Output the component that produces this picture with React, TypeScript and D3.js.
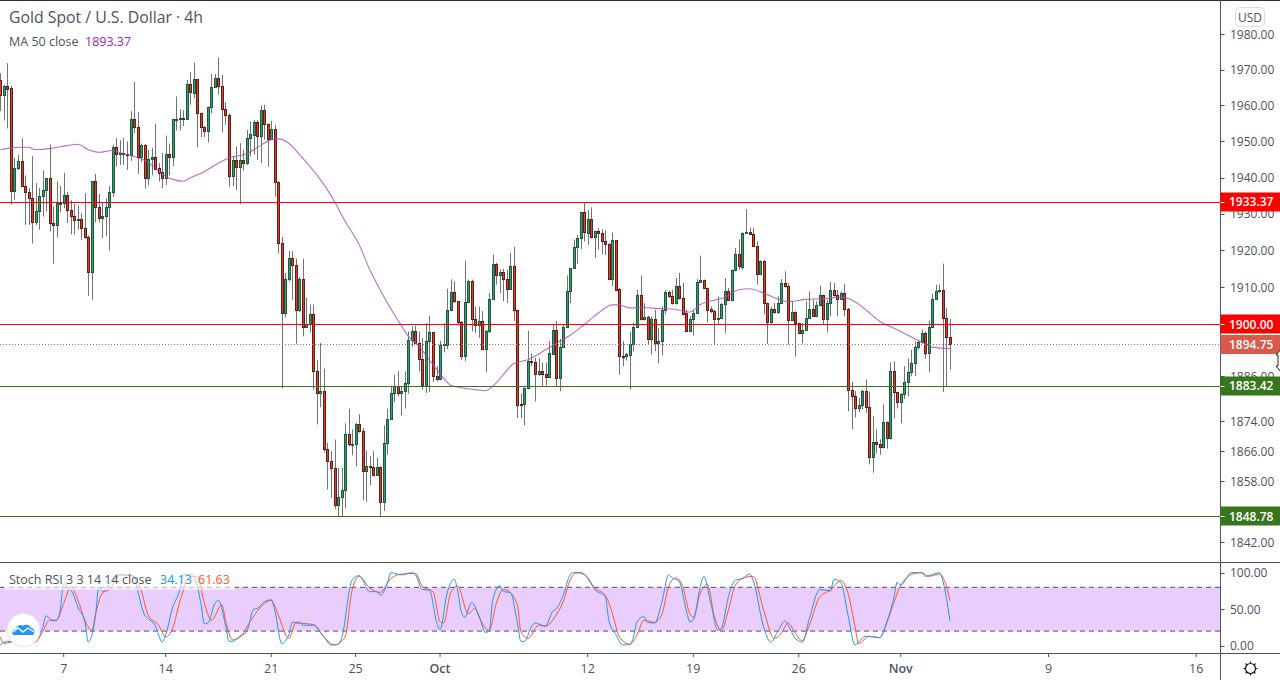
import React from 'react';
import * as d3 from 'd3';

const opens = [
  1967.1,1962.9,1965.4,1964.8,1936.2,1942.6,1944.5,1937.6,1935.9,1934.3,
  1927.8,1930.7,1934.9,1936.5,1939.8,1927.5,1926.9,1932.9,1933,1935.2,
  1931.2,1929.3,1928.2,1928.6,1926.1,1923.6,1914.1,1939,1931.9,1928.8,
  1929.3,1931.9,1935.9,1948.4,1946.4,1946.8,1946.5,1946.1,1956.2,1954,
  1945.8,1949,1940,1945.1,1945.6,1942.6,1941.5,1940,1946.5,1945.8,
  1956.1,1956.1,1956.4,1956.2,1965.9,1963.6,1967.3,1957.8,1954,1952.8,
  1959.5,1965.1,1967.6,1965.4,1958.9,1957.3,1940.3,1944.8,1943,1944.8,
  1943.9,1950.9,1951.9,1955.5,1951.4,1958.6,1954.7,1950.8,1953.4,1938.9,
  1922,1903,1912.2,1918,1916,1903.7,1912.2,1899.2,1900.1,1902.8,
  1887.3,1881.4,1882.1,1866.6,1863.5,1861.6,1851.8,1854,1855.8,1870.6,
  1867.8,1868,1873.3,1871.4,1860.7,1862.1,1861.9,1859.6,1861.9,1852.6,
  1868.2,1874.6,1881.4,1883.4,1881.4,1882,1884.1,1895.7,1898.2,1894.9,
  1890.6,1883.7,1895.4,1897.8,1886,1885.2,1894.4,1894.4,1903.8,1908.7,
  1906.2,1900.6,1891.3,1906,1911.7,1901.3,1899.8,1900.9,1893.2,1898.2,
  1906.8,1916.3,1913.3,1914.1,1912.2,1909.5,1915.8,1903.7,1878.6,1878.5,
  1882.9,1890.1,1889.8,1886.5,1887.4,1886.5,1885.7,1892,1898.4,1885.4,
  1893.9,1899.2,1908.9,1915.1,1921,1923.3,1930.5,1924.9,1928.6,1923.6,
  1925.3,1924.8,1922.5,1921.7,1912.2,1922.8,1909.5,1891.5,1891.3,1891.8,
  1894.6,1899.1,1907.9,1901.3,1901.9,1895.9,1901.4,1894.8,1895.4,1903.8,
  1908.7,1907.5,1905.6,1910.2,1907.1,1903,1898.2,1901.3,1903,1911.4,
  1912,1909.8,1904.1,1903.6,1901.4,1901.6,1905.4,1909,1906.4,1914.7,
  1919,1915.6,1924.8,1925,1924.5,1921.2,1913.5,1917.2,1905.7,1900.5,
  1904.1,1903.2,1905.7,1911.2,1910.4,1901.1,1903.3,1900.3,1897.5,1898.4,
  1901.7,1904.1,1902.1,1905.2,1907.9,1901.3,1905.6,1909.3,1907.9,1906.7,
  1908.4,1904.1,1882.3,1880.7,1877.4,1878.3,1882.1,1877.8,1864.5,1868.5,
  1868,1867.1,1873.8,1869.5,1887.4,1881.7,1879,1881.1,1884.5,1887,
  1889.6,1893.8,1895.1,1897.6,1892.2,1899.1,1906.7,1909,1909.3,1901.7,1896.5,
];
const highs = [
  1969,1965.6,1971.8,1965.5,1945.4,1946.3,1950.9,1940.6,1937.1,1945.9,
  1938.5,1937.1,1942,1939.9,1949.1,1932.1,1938.9,1937.7,1941.3,1936.1,
  1933.9,1932.8,1932.3,1930.2,1935.7,1924.1,1939.1,1941,1935.5,1933,
  1934.3,1937.7,1949.1,1950.9,1950.3,1950.9,1950,1958.4,1966.5,1958.1,
  1949.4,1949.3,1947.7,1948.2,1954.9,1944,1946.8,1951.6,1949.4,1956.3,
  1962.5,1958.9,1958.7,1967.1,1969.3,1972,1967.4,1958,1954.2,1959.7,
  1968.8,1968.8,1973.4,1968.5,1960.9,1957.8,1946,1948.6,1949.5,1947.7,
  1953.2,1955.5,1956,1956,1960,1960.2,1955,1955.7,1954.6,1939,
  1923.7,1913.9,1919.9,1919.8,1917.8,1912.8,1917.7,1907.1,1905.3,1905.3,
  1890.4,1894.9,1888,1868.2,1866,1869.1,1861.6,1861.6,1873.4,1877.3,
  1871.8,1873.5,1875.8,1872.2,1866.2,1864.7,1866,1864.2,1862,1872.8,
  1877.3,1883.3,1886.3,1887.3,1883.3,1887.3,1898,1899.4,1899.6,1898,
  1896.3,1900.3,1902.3,1897.9,1888.7,1895.5,1900.3,1909.6,1912.1,1911.6,
  1906.3,1900.8,1917.2,1912.1,1912.1,1904.7,1904.7,1903.5,1898.5,1908.4,
  1918.9,1916.6,1914.8,1915,1914.8,1919.3,1921,1903.9,1881.3,1883,
  1898.2,1892.1,1890.9,1890.9,1889.6,1889.7,1895.4,1900,1900.9,1896,
  1899.9,1913.2,1915.2,1923,1924.3,1930.6,1933.1,1931.1,1931.8,1925.4,
  1926.1,1925.8,1925.5,1922,1924.9,1922.9,1909.8,1895.4,1892.2,1897.9,
  1900.3,1909.3,1913.2,1905.7,1902.3,1902.1,1903.9,1899,1904.8,1909.3,
  1909,1909.3,1912.5,1913.9,1911.2,1903.9,1902.3,1903.9,1912.2,1918.6,
  1912.1,1909.9,1904.8,1903.9,1907.5,1905.7,1912.5,1909.8,1914.8,1920.7,
  1923,1924.9,1931.3,1926.3,1926.1,1922.5,1917.3,1917.3,1905.8,1904.7,
  1905.7,1907.5,1912.2,1914.3,1911.2,1906.2,1903.5,1900.4,1900.3,1906.2,
  1908.9,1906.6,1906.2,1910.4,1908,1906.6,1911.4,1911.2,1909.3,1908.9,
  1910.9,1904.4,1884.5,1882,1880.2,1882.4,1885.1,1881.8,1875.3,1871.8,
  1869.1,1878.4,1873.9,1889.7,1890,1881.8,1881.5,1888.7,1890.7,1893.1,
  1895.4,1895.8,1898.5,1898,1900.9,1908.3,1910.7,1910.7,1916.4,1904.4,1901.4,
];
const lows = [
  1958.4,1955.8,1953.6,1932.6,1933.9,1942.1,1937.5,1927,1927,1921.9,
  1927,1925.7,1929.3,1930.7,1925.2,1916.4,1923.5,1930.5,1931.6,1927.5,
  1924.4,1924.4,1925.7,1922.8,1923.2,1907.7,1906.6,1927.7,1927.7,1923.4,
  1923.9,1920,1934.7,1943,1943.5,1943.5,1942.1,1944.6,1952.3,1941,
  1944.3,1937,1937.9,1940.6,1942.1,1938.9,1937,1938,1940.6,1943.2,
  1953,1953.1,1954.3,1956.1,1960.2,1962,1948.3,1951.2,1951.2,1949.7,
  1957.8,1965,1963,1952.5,1954.6,1937.5,1937.7,1936.6,1932.7,1941.9,
  1943.5,1945.8,1946.3,1944.9,1944,1950.5,1943,1950.5,1934.8,1919.2,
  1882.7,1901.9,1911.6,1906.6,1894.7,1903.2,1896.7,1899.1,1897.8,1882.4,
  1873.1,1877.7,1865.6,1855.9,1853.7,1850.7,1848.9,1848.9,1850.9,1867.3,
  1864.9,1862,1870.9,1853,1852.6,1857,1859.4,1859.4,1848.9,1850.2,
  1865,1874.4,1879,1880.6,1875.5,1877.4,1881.3,1893.8,1894.8,1887.3,
  1882.4,1881.5,1881.7,1884.5,1884.6,1885.1,1892.4,1893.3,1903.5,1905.7,
  1899.7,1890.4,1890,1905.7,1898,1897.6,1896.3,1893,1887.1,1897.6,
  1906.6,1910.7,1908.4,1906.2,1905.7,1909.3,1900.8,1874.8,1874.8,1872.9,
  1882.4,1888.7,1879.2,1886,1883.3,1883.5,1885.5,1891.8,1883.3,1882,
  1893.7,1899,1905.7,1915,1916.4,1920.4,1922.5,1921.6,1923.3,1918,
  1920.2,1919,1918.8,1912,1910.3,1909,1886.4,1888.7,1890.2,1882.4,
  1892.6,1899,1901,1901,1894.5,1891.8,1892.7,1889.4,1891.6,1902.6,
  1907.1,1905.3,1905.3,1906.6,1902.6,1898,1898,1897,1902.8,1911.2,
  1909.5,1900.5,1903,1894.7,1899.9,1901.4,1897.5,1906.4,1906.2,1914.3,
  1914.8,1914.8,1924.6,1924.2,1921,1910.7,1913.3,1902.6,1894.7,1900.1,
  1902.8,1902.8,1905.5,1909.9,1894.5,1900.8,1891.3,1897.4,1894.8,1898.2,
  1901.4,1901.9,1901.9,1904.8,1899.9,1897.8,1902.1,1907.5,1902.1,1906.5,
  1902.1,1876.6,1871.8,1875,1876.4,1877.1,1876.2,1862.5,1860.3,1865.4,
  1865.1,1866.7,1866.7,1869.1,1874.7,1877.4,1873.4,1879.9,1880.6,1886,
  1886,1893.1,1894.8,1890.7,1887.1,1899,1906.5,1908.5,1881.7,1883.1,1887.8,
];
const closes = [
  1962.9,1965.4,1964.7,1936.2,1942.6,1944.5,1937.6,1935.9,1934.3,1927.8,
  1930.8,1934.9,1936.5,1939.8,1927.4,1926.9,1933.1,1933.1,1935.2,1931.2,
  1929.3,1928.2,1928.6,1926.1,1923.6,1914.1,1939,1931.9,1928.8,1929.3,
  1931.9,1935.9,1948.4,1946.4,1946.8,1946.4,1946.1,1956.2,1953.9,1945.8,
  1949,1940,1945.1,1945.6,1942.5,1941.4,1940,1946.5,1945.8,1956.2,
  1956.3,1956.4,1956.1,1965.9,1963.7,1967.3,1957.8,1953.9,1952.8,1959.5,
  1965.1,1967.6,1965.4,1958.9,1957.3,1940.3,1944.8,1943,1944.8,1943.9,
  1950.9,1952,1955.5,1951.4,1958.6,1954.7,1950.8,1953.4,1938.9,1922,
  1903,1912.2,1918,1916,1903.7,1912.2,1899.2,1900.1,1902.8,1887.3,
  1881.5,1882.1,1866.6,1863.5,1861.6,1851.8,1854,1855.8,1870.6,1868,
  1868,1873.3,1871.4,1860.7,1862.1,1861.8,1859.6,1861.9,1852.6,1868.2,
  1874.6,1881.5,1883.4,1881.4,1882.1,1884.2,1895.7,1898.2,1894.9,1890.6,
  1883.7,1895.4,1897.8,1886,1885.2,1894.5,1894.6,1903.8,1908.7,1906.2,
  1900.6,1891.3,1906,1911.7,1901.3,1899.8,1900.9,1893.2,1898.2,1906.8,
  1916.3,1913.3,1914.1,1912.2,1909.5,1915.8,1903.7,1878.3,1878.3,1882.9,
  1890.1,1889.7,1886.5,1887.4,1886.5,1885.7,1892.1,1898.4,1885.4,1893.9,
  1899.2,1909,1915.1,1921,1923.4,1930.5,1925,1928.6,1923.6,1925.3,
  1924.8,1922.5,1921.7,1912.2,1922.8,1909.3,1891.3,1891.3,1892,1894.7,
  1899.2,1907.9,1901.3,1901.9,1895.9,1901.4,1894.8,1895.4,1903.9,1908.7,
  1907.5,1905.6,1910.2,1907.1,1902.8,1898.2,1901.3,1903,1911.4,1912,
  1909.7,1903.9,1903.6,1901.4,1901.7,1905.5,1909,1906.5,1914.7,1919,
  1915.7,1924.8,1925,1924.5,1921.1,1913.5,1917.2,1905.7,1900.5,1904.1,
  1903.3,1905.7,1911.2,1910.3,1901.1,1903.3,1900.3,1897.6,1898.4,1901.7,
  1904.1,1902.1,1905.2,1907.9,1901.3,1905.7,1909.3,1907.8,1906.7,1908.5,
  1904.1,1882.3,1880.7,1877.4,1878.3,1882.1,1877.8,1864.5,1868.5,1868,
  1867.1,1873.8,1869.5,1887.4,1881.7,1879,1881.3,1884.5,1887.1,1889.6,
  1893.9,1895.1,1897.6,1892.2,1899.2,1906.8,1909,1909.3,1901.6,1896.5,1894.75,
];

// MA 50 at these bars
const maBars = [0,3,6,8,10,14,17,22,25,28,32,34,38,42,45,47,49,52,54,58,62,65,70,74,77,79,82,85,93,95,98,102,105,109,114,116,119,123,126,128,131,135,138,140,143,146,150,155,158,162,166,170,174,176,179,183,187,191,196,199,206,210,213,217,221,224,229,234,239,242,245,250,255,261,265,270];
const maValues = [1947.7,1948.2,1948.4,1948.4,1947.7,1948,1948.5,1949.2,1947.7,1947,1947.5,1946.9,1945.8,1944.3,1941.7,1940.3,1939.5,1939,1939.9,1941.7,1944,1945.4,1946.6,1948.9,1950.5,1950.7,1949.5,1946.4,1936.6,1933.4,1928,1921.6,1914.8,1907.5,1899.6,1896.7,1894,1889.1,1885.5,1883.6,1882.9,1882.4,1882.1,1883.3,1886.4,1889.4,1890.4,1893.1,1894.8,1897,1899.9,1903,1905.2,1905.2,1904.4,1904.5,1904.2,1904.1,1903.3,1905.3,1907.3,1909.3,1909.6,1908.4,1906.8,1906.1,1906.7,1906.9,1907.3,1906.6,1904.7,1900.8,1898.5,1895.6,1893.8,1893.37];

// Stoch RSI %K and %D
const kBars = [0,1,3,5,10,12,13,15,16,17,18,19,21,22,24,25,27,28,29,31,33,36,38,39,41,42,44,46,47,49,51,52,54,55,57,58,59,61,62,64,65,66,68,70,72,73,75,77,78,80,82,83,85,86,89,92,94,96,97,100,102,105,107,108,110,111,114,117,118,120,122,124,125,127,129,130,131,132,134,136,138,139,140,142,143,145,147,148,149,151,152,155,157,158,160,162,163,165,167,169,172,173,175,177,179,180,181,183,184,186,188,190,191,193,195,196,197,199,200,202,204,205,207,209,211,213,214,217,219,221,223,224,226,228,230,233,236,237,239,241,243,244,246,250,252,254,255,256,259,262,263,267,268,270];
const kValues = [1,5,6,8,8,24,41,34,35,49,85,82,67,53,33,5,40,81,74,85,97,97,95,76,42,37,28,5,15,53,76,97,98,95,58,30,31,58,62,28,6,6,13,19,50,51,60,63,49,3,15,32,32,28,28,12,1,2,10,90,96,74,74,69,85,100,97,100,97,77,76,33,22,72,91,76,47,39,59,42,18,21,63,82,74,73,31,6,6,26,31,27,47,50,69,97,100,100,92,77,67,35,15,1,2,12,33,40,32,31,58,97,93,88,49,33,35,81,95,58,21,24,67,90,92,98,90,26,5,19,34,28,10,5,37,77,75,91,86,42,1,5,13,11,32,65,87,83,100,100,95,100,88,34.13];
const dBars = [0,1,3,6,10,12,14,16,18,20,22,24,26,27,29,31,34,37,40,42,45,47,49,51,54,56,58,60,63,64,66,68,71,74,77,79,82,84,89,92,95,98,100,102,105,108,111,114,118,120,123,125,126,128,130,133,135,136,139,141,143,144,147,148,150,153,155,158,160,162,164,166,169,172,174,176,179,181,183,186,188,190,192,194,196,197,199,201,203,205,207,209,212,214,217,220,222,224,226,228,230,233,236,239,241,243,244,247,250,252,254,256,260,262,264,267,269,270];
const dValues = [12,3,5,8,5,19,35,35,58,80,63,35,21,42,72,77,97,96,76,42,28,12,24,60,95,95,58,35,56,35,8,11,33,53,62,42,10,31,29,12,1,12,76,95,79,73,92,98,99,81,74,33,31,72,82,44,51,40,21,58,77,76,56,19,10,28,27,42,60,90,100,98,79,69,44,12,2,15,35,32,42,81,93,81,44,39,72,84,40,21,49,83,94,95,49,10,17,31,17,7,28,67,76,89,72,26,3,13,11,31,58,83,99,100,95,98,81,61.63];

const dayLabels = ['7','14','21','25','Oct','12','19','26','Nov','9','16'];
const dayBars = [18,47,77,101,125,167,197,227,256,298,340];

const priceTicks = [1980,1970,1960,1950,1940,1930,1920,1910,1900,1886,1874,1866,1858,1842];
const oscTicks = [100,50,0];

const priceLevels = [1933.37,1900,1883.42,1848.78];
const levelColors = ['#ff0000','#ff0000','#38761d','#38761d'];
const lastPrice = 1894.75;

const font = '"Open Sans", sans-serif';
const textCol = '#4e525c';
const axisCol = '#50535e';

const W = 1280;
const H = 680;
const axisX = 1220.5;
const paneTop = 1;
const divider = 562.5;
const timeLine = 653.5;

const x = d3.scaleLinear().domain([0, 340]).range([0.4, 1196.2]);
// the price axis is logarithmic
const y = d3.scaleLog().domain([1980, 1848.78]).range([34, 516.4]);
const yOsc = d3.scaleLinear().domain([100, 0]).range([572.7, 645.7]);

const maLine = d3.line<number>().x((_, i) => x(maBars[i])).y(d => y(d)).curve(d3.curveMonotoneX);
const kLine = d3.line<number>().x((_, i) => x(kBars[i])).y(d => yOsc(d)).curve(d3.curveMonotoneX);
const dLine = d3.line<number>().x((_, i) => x(dBars[i])).y(d => yOsc(d)).curve(d3.curveMonotoneX);

const Tag = ({ value, color }: { value: number; color: string }) => (
  <g>
    <rect x={axisX} y={Math.round(y(value)) - 9.5} width={W - axisX} height={19} fill={color} />
    <line x1={axisX} x2={axisX + 4} y1={Math.round(y(value)) + 0.5} y2={Math.round(y(value)) + 0.5} stroke="#fff" />
    <text x={1229} y={y(value) + 4.5} fontSize={12} fontWeight={600} fill="#fff">{value.toFixed(2)}</text>
  </g>
);

export default function App() {
  return (
    <svg width={W} height={H} viewBox={`0 0 ${W} ${H}`} fontFamily={font}
      style={{ position: 'absolute', left: 0, top: 0, background: '#fff' }}>
      <defs>
        <clipPath id="pricePane"><rect x={0} y={paneTop} width={axisX} height={divider - paneTop} /></clipPath>
        <clipPath id="oscPane"><rect x={0} y={divider} width={axisX} height={timeLine - divider} /></clipPath>
      </defs>

      <g clipPath="url(#pricePane)">
        {closes.map((c, i) => {
          const up = c >= opens[i];
          const cx = Math.round(x(i)) + 0.5;
          const top = y(Math.max(c, opens[i]));
          const bot = y(Math.min(c, opens[i]));
          return (
            <g key={i}>
              <line x1={cx} x2={cx} y1={y(highs[i])} y2={y(lows[i])} stroke="#737375" />
              <rect x={cx - 1} y={Math.round(top) + 0.5} width={2}
                height={Math.max(Math.round(bot) - Math.round(top), 1)}
                fill={up ? '#3d9a6e' : '#d8402f'} stroke={up ? '#1c5a3c' : '#651c14'} />
            </g>
          );
        })}
        <path d={maLine(maValues) ?? ''} fill="none" stroke="#ab47bc" strokeOpacity={0.8} strokeWidth={1.1} />
        {priceLevels.map((p, i) => (
          <rect key={p} x={0} width={axisX} y={Math.round(y(p))} height={1} fill={levelColors[i]} />
        ))}
        <line x1={0} x2={axisX} y1={344.5} y2={344.5} stroke="#e0533f" strokeDasharray="1 2" />
      </g>

      {/* oscillator pane */}
      <g clipPath="url(#oscPane)">
        <rect x={0} y={yOsc(80)} width={axisX} height={yOsc(20) - yOsc(80)} fill="#e9cdfd" />
        <line x1={0} x2={axisX} y1={yOsc(80)} y2={yOsc(80)} stroke="#5b4a6b" strokeDasharray="5 4" />
        <line x1={0} x2={axisX} y1={yOsc(20)} y2={yOsc(20)} stroke="#5b4a6b" strokeDasharray="5 4" />
        <path d={dLine(dValues) ?? ''} fill="none" stroke="#ff5722" />
        <path d={kLine(kValues) ?? ''} fill="none" stroke="#2196f3" />
      </g>

      <rect x={4} y={571} width={231} height={19} fill="#fff" fillOpacity={0.6} />
      <text x={9} y={584} fontSize={12.5} fill={textCol}>Stoch RSI 3 3 14 14 close</text>
      <text x={160} y={584} fontSize={12.5} fill="#2196f3">34.13</text>
      <text x={198} y={584} fontSize={12.5} fill="#ff5722">61.63</text>

      <text x={9} y={23} fontSize={15.8} fill={textCol}>Gold Spot / U.S. Dollar · 4h</text>
      <text x={9} y={46} fontSize={12.5} fill={textCol}>MA 50 close</text>
      <text x={85} y={46} fontSize={12.5} fill="#9c27b0">1893.37</text>

      {/* logo */}
      <circle cx={23.5} cy={630} r={16.5} fill="#fff" stroke="#e0e3eb" />
      <path d="M14 635 C11 635 12 629 16 629 C17 625 21 624 23 626 C25 624 30 624 31 628 C35 628 36 635 32 635 Z" fill="#2196f3" />
      <path d="M13 632 L18 628 L23 632 L28 628 L34 632" fill="none" stroke="#fff" strokeWidth={1.4} />

      {/* frame */}
      <line x1={0} x2={W} y1={0.5} y2={0.5} stroke="#2a2e39" />
      <line x1={0} x2={W} y1={divider} y2={divider} stroke={axisCol} />
      <line x1={0} x2={W} y1={timeLine} y2={timeLine} stroke={axisCol} />
      <line x1={axisX} x2={axisX} y1={0} y2={H} stroke={axisCol} />

      {/* price axis */}
      {priceTicks.map(t => (
        <g key={t}>
          <line x1={axisX} x2={axisX + 4} y1={Math.round(y(t)) + 0.5} y2={Math.round(y(t)) + 0.5} stroke={axisCol} />
          <text x={1230} y={y(t) + 4.5} fontSize={12} fill={textCol}>{t.toFixed(2)}</text>
        </g>
      ))}
      {oscTicks.map(t => (
        <g key={t}>
          <line x1={axisX} x2={axisX + 4} y1={Math.round(yOsc(t)) + 0.5} y2={Math.round(yOsc(t)) + 0.5} stroke={axisCol} />
          <text x={1230} y={yOsc(t) + 4.5} fontSize={12} fill={textCol}>{t.toFixed(2)}</text>
        </g>
      ))}

      <Tag value={1933.37} color="#ff0000" />
      <Tag value={1900} color="#ff0000" />
      <rect x={axisX} y={335} width={W - axisX} height={19} fill="#d9594c" />
      <text x={1229} y={349} fontSize={12} fontWeight={600} fill="#fff">{lastPrice.toFixed(2)}</text>
      <Tag value={1883.42} color="#38761d" />
      <Tag value={1848.78} color="#38761d" />

      <rect x={1235.5} y={7.5} width={29} height={19} rx={4} fill="#fff" stroke="#dcdee3" />
      <text x={1250} y={21.5} fontSize={12} fill={textCol} textAnchor="middle">USD</text>

      {/* resize cursor at the window edge */}
      <path d="M1281 349 L1276 355 L1278 355 L1278 366 L1276 366 L1281 372 Z" fill="#fff" stroke="#222" />

      {/* time axis */}
      {dayLabels.map((d, i) => (
        <g key={d}>
          <line x1={x(dayBars[i])} x2={x(dayBars[i])} y1={timeLine} y2={timeLine + 3.5} stroke={axisCol} />
          <text x={x(dayBars[i])} y={673} fontSize={12.5} textAnchor="middle"
            fontWeight={d === 'Oct' || d === 'Nov' ? 600 : 400} fill={textCol}>{d}</text>
        </g>
      ))}

      {/* settings gear */}
      <g stroke="#131722" fill="none">
        <circle cx={1250.5} cy={668.5} r={5} strokeWidth={1.2} />
        <path d="M1250.5 661.5 v2 M1250.5 673.5 v2 M1243.5 668.5 h2 M1255.5 668.5 h2 M1245.5 663.5 l1.4 1.4 M1254 672 l1.4 1.4 M1255.5 663.5 l-1.4 1.4 M1247 672 l-1.4 1.4" strokeWidth={1.2} />
      </g>
    </svg>
  );
}
